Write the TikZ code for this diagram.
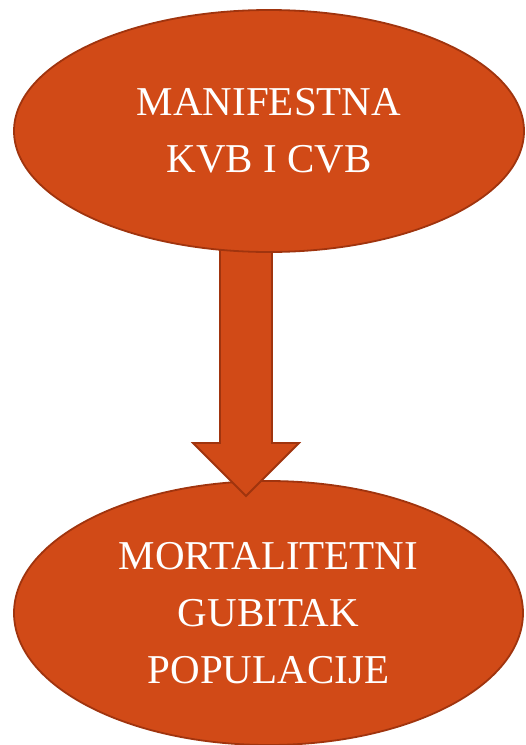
\documentclass[tikz,border=0pt]{standalone}
\usepackage{fontspec}
\setmainfont{Liberation Serif}
\usetikzlibrary{shapes.geometric}
\definecolor{orfill}{RGB}{209,74,23}
\definecolor{orline}{RGB}{160,52,14}
\tikzset{
  oval/.style={ellipse, draw=orline, fill=orfill, line width=1.8pt, inner sep=0pt,
    text=white, align=center, font=\fontsize{41}{57}\selectfont},
  blockarrow/.style={draw=orline, fill=orfill, line width=1.8pt, line join=miter}
}
\begin{document}
\begin{tikzpicture}[x=1pt,y=-1pt]
\useasboundingbox (0,0) rectangle (526,745);
\node[oval, minimum width=509pt, minimum height=264pt] (bot) at (268.5,613) {MORTALITETNI\\GUBITAK\\POPULACIJE};
\coordinate (s1) at (220,240);
\coordinate (s2) at (272,240);
\coordinate (tip) at (246,496);
\draw[blockarrow] (s1) -- (220,443) -- (193,443) -- (tip) -- (299,443) -- (272,443) -- (s2) -- cycle;
\node[oval, minimum width=510pt, minimum height=242pt] (top) at (269,131) {MANIFESTNA\\KVB I CVB};
\end{tikzpicture}
\end{document}
